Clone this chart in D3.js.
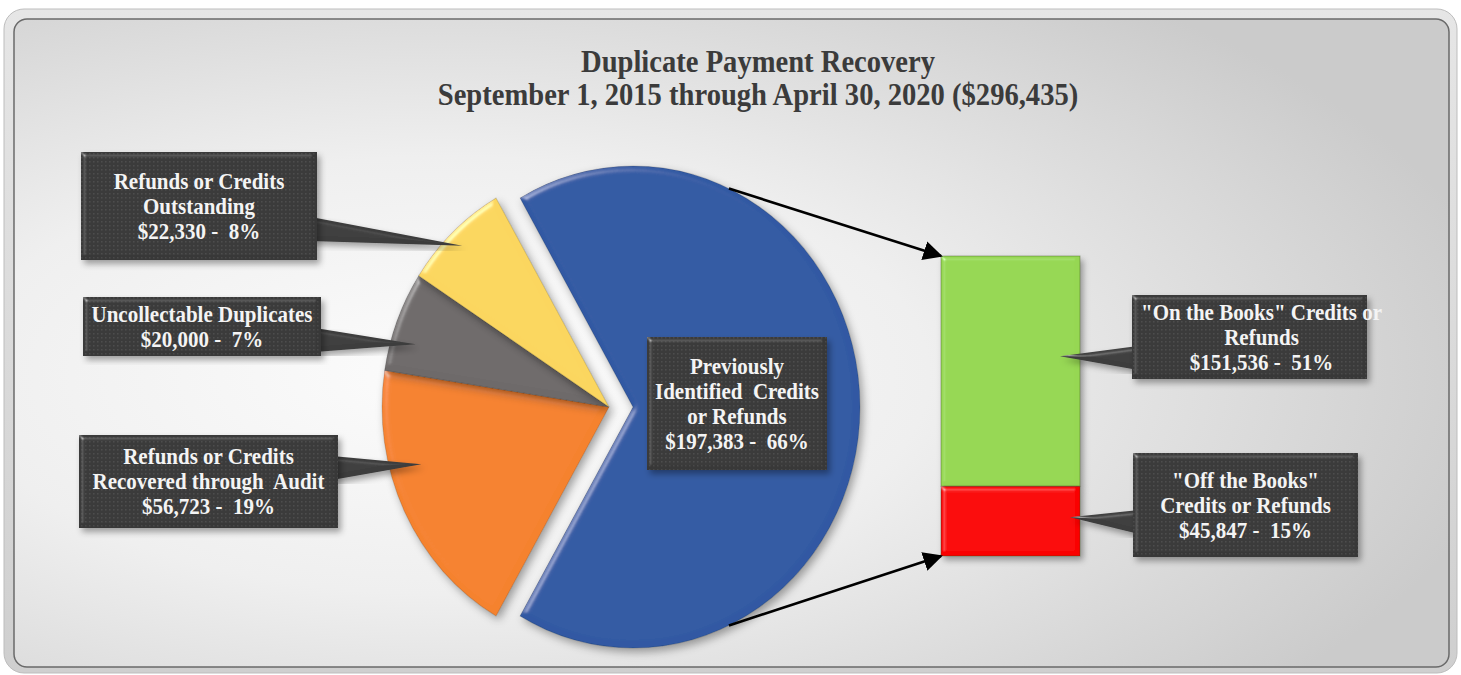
<!DOCTYPE html>
<html>
<head>
<meta charset="utf-8">
<script src="https://cdn.jsdelivr.net/npm/d3@7"></script>
<style>
  body { margin: 0; background: #fff; }
  svg { display: block; }
</style>
</head>
<body>
<div id="chart-area"></div>
<script>
// Duplicate payment recovery - pie of bar

// data
const titleLines = ["Duplicate Payment Recovery", "September 1, 2015 through April 30, 2020 ($296,435)"]

const pieNames = [
  ["Previously", "Identified  Credits", "or Refunds"],
  ["Refunds or Credits", "Recovered through  Audit"],
  ["Uncollectable Duplicates"],
  ["Refunds or Credits", "Outstanding"]
]
const pieValues = [197383, 56723, 20000, 22330]
const piePercents = ["66%", "19%", "7%", "8%"]

const barNames = [
  ["\"On the Books\" Credits or", "Refunds"],
  ["\"Off the Books\"", "Credits or Refunds"]
]
const barValues = [151536, 45847]
const barPercents = ["51%", "15%"]

// styles / layout
const pieColors = ["#3059a3", "#f5822e", "#6e6a6a", "#fbd65e"]
const barColors = ["#96d752", "#fa0000"]
const W = 1461, H = 675
const PIE = { cx: 609, cy: 407, r: 227, sy: 241 / 227, explode: 24 }
const BAR = { x: 941, w: 139, top: 256, bottom: 556 }
const FONT = "'Liberation Serif', 'Times New Roman', serif"

// callout boxes (the first pie box sits on its slice, no pointer)
const pieBoxes = [
  { x: 647, y: 337, w: 180, h: 133 },
  { x: 79, y: 435, w: 259, h: 93, tipA: 254, tipR: 0.86, baseY: 468 },
  { x: 83, y: 297, w: 238, h: 59, tipA: 287, tipR: 0.89, baseY: 340 },
  { x: 81, y: 152, w: 236, h: 108, tipA: 316, tipR: 0.93, baseY: 229 }
]
const barBoxes = [
  { x: 1132, y: 295, w: 235, h: 84, tipX: 1060, baseY: 358, dx: 12 },
  { x: 1133, y: 453, w: 225, h: 104, tipX: 1070, baseY: 522 }
]

const money = d3.format("$,")
const rad = deg => deg * Math.PI / 180

const svg = d3.select("#chart-area").append("svg")
    .attr("width", W)
    .attr("height", H)

const defs = svg.append("defs")

// background gradient
const bg = defs.append("radialGradient")
    .attr("id", "bg")
    .attr("cx", "0.3").attr("cy", "0.55").attr("r", "0.75")
bg.append("stop").attr("offset", "0").attr("stop-color", "#fcfcfc")
bg.append("stop").attr("offset", "0.45").attr("stop-color", "#efefef")
bg.append("stop").attr("offset", "1").attr("stop-color", "#cbcbcb")

const frameGrad = defs.append("linearGradient")
    .attr("id", "frame").attr("x1", 0).attr("y1", 0).attr("x2", 0).attr("y2", 1)
frameGrad.append("stop").attr("offset", "0").attr("stop-color", "#e6e6e6")
frameGrad.append("stop").attr("offset", "1").attr("stop-color", "#cfcfcf")

// bevel + shadow filter
function bevel(id, blur, shadow, k3) {
  const f = defs.append("filter").attr("id", id)
      .attr("x", "-10%").attr("y", "-10%").attr("width", "125%").attr("height", "125%")
  f.append("feGaussianBlur").attr("in", "SourceAlpha").attr("stdDeviation", blur).attr("result", "blur")
  f.append("feSpecularLighting").attr("in", "blur").attr("surfaceScale", 4)
      .attr("specularConstant", 0.8).attr("specularExponent", 24)
      .attr("lighting-color", "#ffffff").attr("result", "spec")
    .append("feDistantLight").attr("azimuth", 225).attr("elevation", 25)
  f.append("feComposite").attr("in", "spec").attr("in2", "SourceAlpha")
      .attr("operator", "in").attr("result", "specIn")
  f.append("feComposite").attr("in", "SourceGraphic").attr("in2", "specIn")
      .attr("operator", "arithmetic").attr("k1", 0).attr("k2", 1).attr("k3", k3).attr("k4", 0)
      .attr("result", "lit")
  f.append("feGaussianBlur").attr("in", "SourceAlpha").attr("stdDeviation", shadow).attr("result", "sb")
  f.append("feOffset").attr("in", "sb").attr("dx", 3).attr("dy", 4).attr("result", "so")
  f.append("feFlood").attr("flood-color", "#000").attr("flood-opacity", 0.35)
  f.append("feComposite").attr("in2", "so").attr("operator", "in").attr("result", "shadow")
  const m = f.append("feMerge")
  m.append("feMergeNode").attr("in", "shadow")
  m.append("feMergeNode").attr("in", "lit")
}
bevel("bevel", 3, 4, 0.4)
bevel("bevelSmall", 2, 3, 0.45)

// dotted texture for callouts
const pat = defs.append("pattern")
    .attr("id", "dots").attr("patternUnits", "userSpaceOnUse")
    .attr("width", 4).attr("height", 4)
pat.append("rect").attr("width", 4).attr("height", 4).attr("fill", "#383838")
pat.append("rect").attr("x", 1).attr("y", 1).attr("width", 1.5).attr("height", 1.5).attr("fill", "#4a4a4a")

// arrow head
defs.append("marker")
    .attr("id", "arrow")
    .attr("viewBox", "0 0 10 10")
    .attr("refX", 9).attr("refY", 5)
    .attr("markerWidth", 7.5).attr("markerHeight", 7.5)
    .attr("markerUnits", "strokeWidth")
    .attr("orient", "auto")
  .append("path")
    .attr("d", "M0,0 L10,5 L0,10 Z")
    .attr("fill", "#000")

// frame and panel
svg.append("rect")
    .attr("x", 4).attr("y", 9).attr("width", 1453).attr("height", 664)
    .attr("rx", 20)
    .attr("fill", "url(#frame)")
    .attr("stroke", "#bdbdbd").attr("stroke-width", 1)
svg.append("rect")
    .attr("x", 14).attr("y", 19).attr("width", 1435).attr("height", 648)
    .attr("rx", 13)
    .attr("fill", "url(#bg)")
    .attr("stroke", "#6a6a6a").attr("stroke-width", 1.5)

// title
svg.append("g").selectAll("text")
  .data(titleLines)
  .join("text")
    .attr("transform", (d, i) => `translate(758, ${72 + i * 33}) scale(1, 1.08)`)
    .attr("text-anchor", "middle")
    .attr("font-family", FONT)
    .attr("font-weight", "bold")
    .attr("font-size", "28.6px")
    .attr("fill", "#3b3b3b")
    .text(d => d)

// pie
const total = d3.sum(pieValues)
const startA = Math.PI / 2 - Math.PI * pieValues[0] / total
const pie = d3.pie().sort(null).startAngle(startA).endAngle(startA + 2 * Math.PI)
const arcs = pie(pieValues)
const arc = d3.arc().innerRadius(0).outerRadius(PIE.r)

const offset = (d, i) => {
  if (i !== 0) return [0, 0]
  const mid = (d.startAngle + d.endAngle) / 2
  return [PIE.explode * Math.sin(mid), -PIE.explode * Math.cos(mid)]
}

const pieG = svg.append("g")
    .attr("transform", `translate(${PIE.cx}, ${PIE.cy}) scale(1, ${PIE.sy})`)

pieG.selectAll("path")
  .data(arcs)
  .join("path")
    .attr("d", arc)
    .attr("transform", (d, i) => `translate(${offset(d, i)})`)
    .attr("fill", (d, i) => pieColors[i])
    .attr("stroke", "#000").attr("stroke-opacity", 0.15)
    .attr("filter", "url(#bevel)")

// bar (stacked from the bottom: off the books, then on the books)
const barTotal = d3.sum(barValues)
const y = d3.scaleLinear().domain([0, barTotal]).range([BAR.bottom, BAR.top])
const barStack = barValues.map((v, i) => {
  const below = d3.sum(barValues.slice(i + 1))
  return { y0: below, y1: below + v }
})

svg.append("g").selectAll("rect")
  .data(barStack)
  .join("rect")
    .attr("x", BAR.x)
    .attr("y", d => y(d.y1))
    .attr("width", BAR.w)
    .attr("height", d => y(d.y0) - y(d.y1))
    .attr("fill", (d, i) => barColors[i])
    .attr("stroke", "#2a3a1a").attr("stroke-opacity", 0.35)
    .attr("filter", "url(#bevelSmall)")

// series lines from the exploded slice to the bar
const blueOff = offset(arcs[0], 0)
const edgePoint = deg => [
  PIE.cx + blueOff[0] + PIE.r * Math.sin(rad(deg)),
  PIE.cy + PIE.sy * (blueOff[1] - PIE.r * Math.cos(rad(deg)))
]
const connectors = [
  { from: edgePoint(25), to: [BAR.x, y(barTotal)] },
  { from: edgePoint(155), to: [BAR.x, y(0)] }
]
svg.append("g").selectAll("line")
  .data(connectors)
  .join("line")
    .attr("x1", d => d.from[0]).attr("y1", d => d.from[1])
    .attr("x2", d => d.to[0]).attr("y2", d => d.to[1])
    .attr("stroke", "#000")
    .attr("stroke-width", 2.6)
    .attr("marker-end", "url(#arrow)")

// callouts
function callout(box, lines, tip, side) {
  const g = svg.append("g")
  if (tip) {
    const bx = side === "right" ? box.x + box.w - 6 : box.x + 6
    g.append("path")
        .attr("d", `M${bx},${box.baseY - 12} L${tip[0]},${tip[1]} L${bx},${box.baseY + 12} Z`)
        .attr("fill", "#3d3d3d")
        .attr("filter", "url(#bevelSmall)")
  }
  g.append("rect")
      .attr("x", box.x).attr("y", box.y)
      .attr("width", box.w).attr("height", box.h)
      .attr("fill", "url(#dots)")
      .attr("filter", "url(#bevelSmall)")
  const lh = 25
  const first = box.y + box.h / 2 - (lines.length - 1) * lh / 2
  const tx = box.x + box.w / 2 + (box.dx || 0)
  g.selectAll("text")
    .data(lines)
    .join("text")
      .attr("transform", (d, i) => `translate(${tx}, ${first + i * lh}) scale(1, 1.08)`)
      .attr("dy", "0.35em")
      .attr("text-anchor", "middle")
      .attr("font-family", FONT)
      .attr("font-weight", "bold")
      .attr("font-size", "21px")
      .attr("fill", "#f4f4f4")
      .style("white-space", "pre")
      .text(d => d)
}

pieValues.forEach((v, i) => {
  const b = pieBoxes[i]
  const lines = pieNames[i].concat([`${money(v)} -  ${piePercents[i]}`])
  let tip = null
  if (b.tipA !== undefined) {
    const rr = PIE.r * b.tipR
    tip = [PIE.cx + rr * Math.sin(rad(b.tipA)), PIE.cy - PIE.sy * rr * Math.cos(rad(b.tipA))]
  }
  callout(b, lines, tip, "right")
})

barValues.forEach((v, i) => {
  const b = barBoxes[i]
  const lines = barNames[i].concat([`${money(v)} -  ${barPercents[i]}`])
  const s = barStack[i]
  const tip = [b.tipX, (y(s.y0) + y(s.y1)) / 2 - (i === 0 ? 15 : 4)]
  callout(b, lines, tip, "left")
})
</script>
</body>
</html>
